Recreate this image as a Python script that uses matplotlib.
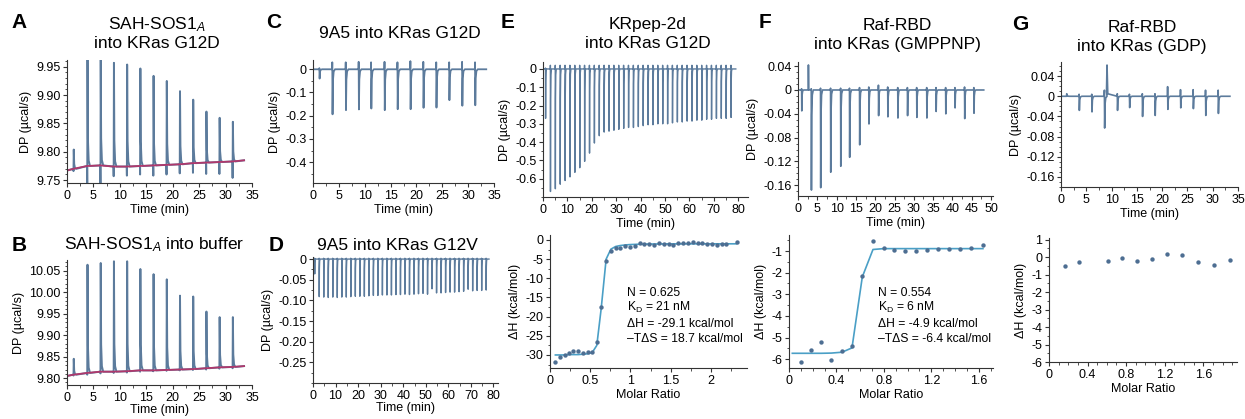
import numpy as np
import matplotlib
matplotlib.use("Agg")
import matplotlib.pyplot as plt
from matplotlib.ticker import MultipleLocator, FuncFormatter

plt.rcParams['font.family'] = ['Liberation Sans', 'DejaVu Sans']
plt.rcParams['mathtext.fontset'] = 'custom'
plt.rcParams['mathtext.rm'] = 'Liberation Sans'
plt.rcParams['mathtext.it'] = 'Liberation Sans:italic'
plt.rcParams['axes.unicode_minus'] = False

# ---------------- DATA ----------------
# Panel A: SAH-SOS1A into KRas G12D (upward peaks)
inj_A = [1.2, 3.8, 6.3, 8.8, 11.3, 13.8, 16.3, 18.8, 21.3, 23.8, 26.3, 28.8, 31.3]
peak_A = [9.804, 9.965, 9.965, 9.957, 9.954, 9.947, 9.934, 9.925, 9.907, 9.892, 9.871, 9.860, 9.853]
dip_A = [9.766, 9.745, 9.745, 9.757, 9.758, 9.760, 9.758, 9.760, 9.762, 9.763, 9.761, 9.761, 9.754]
base_A = [9.770, 9.775, 9.776, 9.774, 9.774, 9.775, 9.776, 9.777, 9.778, 9.780, 9.781, 9.782, 9.783]
base_A_start, base_A_end, end_A = 9.767, 9.785, 33.5

# Panel B: SAH-SOS1A into buffer
inj_B = [1.2, 3.8, 6.3, 8.8, 11.3, 13.8, 16.3, 18.8, 21.3, 23.8, 26.3, 28.8, 31.3]
peak_B = [9.845, 10.064, 10.068, 10.072, 10.072, 10.054, 10.042, 10.030, 9.992, 9.990, 9.955, 9.942, 9.942]
dip_B = [9.806, 9.808, 9.811, 9.812, 9.813, 9.815, 9.816, 9.817, 9.818, 9.819, 9.820, 9.822, 9.823]
base_B = [9.808, 9.812, 9.815, 9.815, 9.816, 9.818, 9.818, 9.819, 9.820, 9.821, 9.823, 9.825, 9.826]
base_B_start, base_B_end, end_B = 9.805, 9.828, 33.5

# Panel C: 9A5 into KRas G12D
inj_C = [1.2, 3.7, 6.3, 8.8, 11.2, 13.8, 16.3, 18.8, 21.3, 23.8, 26.3, 28.8, 31.3]
up_C = [0.005, 0.030, 0.030, 0.032, 0.030, 0.032, 0.030, 0.035, 0.032, 0.030, 0.030, 0.032, 0.030]
peak_C = [-0.040, -0.194, -0.176, -0.173, -0.169, -0.176, -0.172, -0.172, -0.166, -0.165, -0.133, -0.157, -0.155]
end_C = 33.5

# Panel D: 9A5 into KRas G12V
inj_D = [0.7, 2.7, 4.7, 6.7, 8.7, 10.7, 12.7, 14.7, 16.7, 18.7, 20.7, 22.7, 24.7,
         26.7, 28.7, 30.7, 32.7, 34.7, 36.7, 38.7, 40.7, 42.7, 44.7, 46.7, 48.7,
         50.7, 52.7, 54.7, 56.7, 58.7, 60.7, 62.7, 64.7, 66.7, 68.7, 70.7, 72.7,
         74.7, 76.7]
up_D = [0.002] * 39
peak_D = [-0.036, -0.091, -0.092, -0.093, -0.092, -0.093, -0.092, -0.092, -0.091, -0.090,
          -0.090, -0.090, -0.089, -0.088, -0.088, -0.087, -0.087, -0.087, -0.086, -0.086,
          -0.085, -0.086, -0.085, -0.084, -0.083, -0.085, -0.072, -0.082, -0.082, -0.081,
          -0.080, -0.080, -0.079, -0.078, -0.073, -0.077, -0.076, -0.076, -0.075]
end_D = 78.0

# Panel E: KRpep-2d into KRas G12D (thermogram)
inj_E = [1, 3, 5, 7, 9, 11, 13, 15, 17, 19, 21, 23, 25, 27, 29, 31, 33, 35, 37, 39,
         41, 43, 45, 47, 49, 51, 53, 55, 57, 59, 61, 63, 65, 67, 69, 71, 73, 75, 77]
up_E = [0.005] + [0.02] * 38
peak_E = [-0.27, -0.67, -0.655, -0.63, -0.61, -0.59, -0.565, -0.54, -0.505, -0.46,
          -0.405, -0.365, -0.345, -0.34, -0.335, -0.33, -0.325, -0.32, -0.32, -0.315,
          -0.31, -0.305, -0.305, -0.30, -0.30, -0.30, -0.295, -0.29, -0.29, -0.285,
          -0.285, -0.28, -0.28, -0.275, -0.275, -0.27, -0.27, -0.27, -0.265]
end_E = 79.0

# Panel E: binding isotherm
ratio_E = [0.067, 0.125, 0.182, 0.236, 0.29, 0.35, 0.41, 0.467, 0.524, 0.582, 0.636, 0.698,
           0.757, 0.816, 0.875, 0.935, 0.995, 1.055, 1.115, 1.175, 1.235, 1.295, 1.355,
           1.415, 1.475, 1.535, 1.595, 1.655, 1.715, 1.775, 1.835, 1.895, 1.955, 2.015,
           2.075, 2.135, 2.195, 2.32]
dH_E = [-31.9, -30.4, -30.0, -29.4, -29.0, -29.0, -29.6, -29.3, -29.3, -26.7, -17.6, -5.4,
        -2.9, -2.2, -2.2, -1.7, -1.9, -1.6, -0.9, -1.0, -1.1, -1.2, -0.8, -1.0, -1.0, -1.2,
        -0.9, -0.8, -0.7, -0.6, -0.9, -0.7, -1.0, -1.0, -1.2, -1.0, -1.1, -0.4]
fit_E = [-30.0, -30.0, -30.0, -29.9, -29.9, -29.9, -29.8, -29.7, -29.4, -27.5, -18.0, -5.0,
         -2.4, -1.7, -1.45, -1.3, -1.2, -1.15, -1.1, -1.08, -1.06, -1.05, -1.04, -1.03,
         -1.02, -1.02, -1.01, -1.01, -1.0, -1.0, -1.0, -1.0, -1.0, -1.0, -1.0, -1.0, -1.0, -1.0]
text_E = ["N = 0.625", r"K$_{\mathrm{D}}$ = 21 nM", "\u0394H = -29.1 kcal/mol",
          "\u2013T\u0394S = 18.7 kcal/mol"]

# Panel F: Raf-RBD into KRas (GMPPNP)
inj_F = [0.9, 3.4, 5.8, 8.4, 11.0, 13.3, 15.9, 18.3, 20.8, 23.2, 25.8, 28.3, 30.7,
         33.3, 35.7, 38.2, 40.6, 43.1, 45.5]
up_F = [0.002, 0.002, 0.003, 0.003, 0.003, 0.003, 0.004, 0.005, 0.008, 0.005, 0.004,
        0.004, 0.004, 0.004, 0.004, 0.004, 0.004, 0.005, 0.004]
peak_F = [-0.035, -0.168, -0.164, -0.138, -0.128, -0.113, -0.092, -0.057, -0.043, -0.045,
          -0.047, -0.043, -0.046, -0.047, -0.036, -0.040, -0.030, -0.048, -0.039]
artifact_F_t, artifact_F_v = 2.7, 0.042
end_F = 48.1

ratio_F = [0.104, 0.188, 0.272, 0.357, 0.447, 0.531, 0.618, 0.708, 0.798, 0.885, 0.975,
           1.073, 1.163, 1.256, 1.348, 1.444, 1.537, 1.635]
dH_F = [-6.14, -5.57, -5.23, -6.03, -5.62, -5.37, -2.15, -0.54, -0.88, -0.95, -0.98,
        -1.02, -0.95, -0.89, -0.89, -0.89, -0.88, -0.72]
fit_F_x = [0.028, 0.104, 0.188, 0.272, 0.357, 0.447, 0.531, 0.618, 0.708, 0.798, 0.885,
           0.975, 1.073, 1.163, 1.256, 1.348, 1.444, 1.537, 1.635]
fit_F = [-5.73, -5.73, -5.73, -5.73, -5.72, -5.68, -5.48, -2.2, -0.93, -0.89, -0.89,
         -0.89, -0.89, -0.89, -0.89, -0.89, -0.89, -0.89, -0.89]
text_F = ["N = 0.554", r"K$_{\mathrm{D}}$ = 6 nM", "\u0394H = -4.9 kcal/mol",
          "\u2013T\u0394S = -6.4 kcal/mol"]

# Panel G: Raf-RBD into KRas (GDP)
inj_G = [1.1, 3.55, 6.05, 8.55, 11.1, 13.5, 16.05, 18.55, 21.05, 23.6, 26.1, 28.55, 31.05]
up_G = [0.005, 0.004, 0.004, 0.012, 0.005, 0.004, 0.005, 0.005, 0.019, 0.013, 0.013, 0.012, 0.012]
peak_G = [0.004, -0.028, -0.031, -0.063, -0.028, -0.0225, -0.040, -0.038, -0.026, -0.023,
          -0.0245, -0.038, -0.034]
artifact_G_t, artifact_G_v = 9.1, 0.062
end_G = 33.4

ratio_G = [0.17, 0.313, 0.609, 0.762, 0.911, 1.068, 1.224, 1.384, 1.548, 1.711, 1.875]
dH_G = [-0.50, -0.27, -0.19, -0.06, -0.23, -0.10, 0.19, 0.13, -0.27, -0.44, -0.15]

# tick values
xt_35 = [0, 5, 10, 15, 20, 25, 30, 35]
xt_80 = [0, 10, 20, 30, 40, 50, 60, 70, 80]
xt_50 = [0, 5, 10, 15, 20, 25, 30, 35, 40, 45, 50]
yt_A = [9.75, 9.80, 9.85, 9.90, 9.95]
yt_B = [9.80, 9.85, 9.90, 9.95, 10.00, 10.05]
yt_C = [0, -0.1, -0.2, -0.3, -0.4]
yt_D = [0, -0.05, -0.10, -0.15, -0.20, -0.25]
yt_E = [0, -0.1, -0.2, -0.3, -0.4, -0.5, -0.6]
yt_FG = [0.04, 0, -0.04, -0.08, -0.12, -0.16]
yt_Eb = [0, -5, -10, -15, -20, -25, -30]
yt_Fb = [-1, -2, -3, -4, -5, -6]
yt_Gb = [1, 0, -1, -2, -3, -4, -5, -6]
xt_Eb = [0, 0.5, 1, 1.5, 2]
xt_FGb = [0, 0.4, 0.8, 1.2, 1.6]

# ---------------- STYLE ----------------
TRACE = '#5c7b9c'
BASE = '#b0386c'
PTS = '#4d6e92'
FIT = '#4a9fc6'
TICK_FS = 9
LAB_FS = 9
TITLE_FS = 12.5
LET_FS = 15
SPIKE_DX = [0.0, 0.03, 0.08, 0.16, 0.3, 0.55]
SPIKE_FR = [0.25, 0.05, 0.0]

W, H = 1245, 419
fig = plt.figure(figsize=(W / 100, H / 100), dpi=100)


def add_ax(x0, y0, x1, y1):
    return fig.add_axes([x0 / W, 1 - y1 / H, (x1 - x0) / W, (y1 - y0) / H])


def fx(x):
    return x / W


def fy(y):
    return 1 - y / H


def style(ax, xticks, yticks, xdec, ydec, xminor, yminor):
    for s in ('top', 'right'):
        ax.spines[s].set_visible(False)
    for s in ('left', 'bottom'):
        ax.spines[s].set_linewidth(0.8)
        ax.spines[s].set_color('#333333')
    ax.set_xticks(xticks)
    ax.set_yticks(yticks)

    def mk(dec):
        def f(v, _):
            if abs(v) < 1e-9:
                return '0'
            if dec is None:
                return '%g' % v
            return '%.*f' % (dec, v)
        return FuncFormatter(f)
    ax.xaxis.set_major_formatter(mk(xdec))
    ax.yaxis.set_major_formatter(mk(ydec))
    ax.xaxis.set_minor_locator(MultipleLocator(xminor))
    ax.yaxis.set_minor_locator(MultipleLocator(yminor))
    ax.tick_params(which='major', direction='out', length=3.2, width=0.8,
                   labelsize=TICK_FS, pad=1.5, color='#333333')
    ax.tick_params(which='minor', direction='out', length=1.8, width=0.6, color='#333333')


def thermo(times, pre, main, base, start_b, end_b, t_end, s):
    xs = [0.0]
    ys = [start_b]
    for t, p, m, b in zip(times, pre, main, base):
        d = SPIKE_DX
        xs += [t + d[0] * s, t + d[1] * s, t + d[2] * s, t + d[3] * s, t + d[4] * s, t + d[5] * s]
        ys += [b, p, m, b + SPIKE_FR[0] * (m - b), b + SPIKE_FR[1] * (m - b), b]
    xs.append(t_end)
    ys.append(end_b)
    return xs, ys


# ---------- Panel A ----------
axA = add_ax(67, 60, 252, 183)
x, y = thermo(inj_A, dip_A, peak_A, base_A, base_A_start, base_A_end, end_A, 1.0)
axA.plot(x, y, color=TRACE, lw=1.4)
axA.plot([0] + inj_A + [end_A], [base_A_start] + base_A + [base_A_end], color=BASE, lw=1.3)
axA.set_xlim(0, 35)
axA.set_ylim(9.745, 9.962)
style(axA, xt_35, yt_A, 0, 2, 2.5, 0.01)
axA.set_xlabel('Time (min)', fontsize=LAB_FS, labelpad=2)
axA.set_ylabel('DP (\u00b5cal/s)', fontsize=LAB_FS, labelpad=3)

# ---------- Panel B ----------
axB = add_ax(67, 260, 252, 385)
x, y = thermo(inj_B, dip_B, peak_B, base_B, base_B_start, base_B_end, end_B, 1.0)
axB.plot(x, y, color=TRACE, lw=1.4)
axB.plot([0] + inj_B + [end_B], [base_B_start] + base_B + [base_B_end], color=BASE, lw=1.3)
axB.set_xlim(0, 35)
axB.set_ylim(9.784, 10.075)
style(axB, xt_35, yt_B, 0, 2, 2.5, 0.01)
axB.set_xlabel('Time (min)', fontsize=LAB_FS, labelpad=0)
axB.set_ylabel('DP (\u00b5cal/s)', fontsize=LAB_FS, labelpad=3)

# ---------- Panel C ----------
axC = add_ax(313, 60, 494, 183)
x, y = thermo(inj_C, up_C, peak_C, [0] * len(inj_C), 0, 0, end_C, 1.0)
axC.plot(x, y, color=TRACE, lw=1.3)
axC.set_xlim(0, 35)
axC.set_ylim(-0.49, 0.04)
style(axC, xt_35, yt_C, 0, 1, 2.5, 0.05)
axC.set_xlabel('Time (min)', fontsize=LAB_FS, labelpad=2)
axC.set_ylabel('DP (\u00b5cal/s)', fontsize=LAB_FS, labelpad=3)

# ---------- Panel D ----------
axD = add_ax(313, 257, 498, 383)
x, y = thermo(inj_D, up_D, peak_D, [0] * len(inj_D), 0, 0, end_D, 0.8)
axD.plot(x, y, color=TRACE, lw=1.0)
axD.set_xlim(0, 82)
axD.set_ylim(-0.3, 0.005)
style(axD, xt_80, yt_D, 0, 2, 5, 0.025)
axD.set_xlabel('Time (min)', fontsize=LAB_FS, labelpad=0)
axD.set_ylabel('DP (\u00b5cal/s)', fontsize=LAB_FS, labelpad=3)

# ---------- Panel E top ----------
axE = add_ax(543, 62, 748, 197)
x, y = thermo(inj_E, up_E, peak_E, [0] * len(inj_E), 0, 0, end_E, 0.8)
axE.plot(x, y, color=TRACE, lw=1.0)
axE.set_xlim(0, 84)
axE.set_ylim(-0.7, 0.038)
style(axE, xt_80, yt_E, 0, 1, 5, 0.05)
axE.set_xlabel('Time (min)', fontsize=LAB_FS, labelpad=2)
axE.set_ylabel('DP (\u00b5cal/s)', fontsize=LAB_FS, labelpad=3)

# ---------- Panel E bottom ----------
axEb = add_ax(550, 235, 747, 368)
axEb.plot(ratio_E, fit_E, color=FIT, lw=1.2, zorder=2)
axEb.scatter(ratio_E, dH_E, s=10, color=PTS, zorder=3, linewidths=0)
axEb.set_xlim(0, 2.45)
axEb.set_ylim(-33.4, 1.3)
style(axEb, xt_Eb, yt_Eb, None, 0, 0.25, 2.5)
axEb.set_xlabel('Molar Ratio', fontsize=LAB_FS, labelpad=2)
axEb.set_ylabel('\u0394H (kcal/mol)', fontsize=LAB_FS, labelpad=3)
for i, s in enumerate(text_E):
    fig.text(fx(627), fy(296 + 15.3 * i), s, fontsize=8.7, va='baseline', ha='left')

# ---------- Panel F top ----------
axF = add_ax(798, 62, 993, 196)
x, y = thermo(inj_F, up_F, peak_F, [0] * len(inj_F), 0, 0, end_F, 1.0)
x = x[:7] + [artifact_F_t - 0.05, artifact_F_t, artifact_F_t + 0.08] + x[7:]
y = y[:7] + [0, artifact_F_v, 0] + y[7:]
axF.plot(x, y, color=TRACE, lw=1.2)
axF.set_xlim(0, 50.5)
axF.set_ylim(-0.178, 0.047)
style(axF, xt_50, yt_FG, 0, 2, 2.5, 0.01)
axF.set_xlabel('Time (min)', fontsize=LAB_FS, labelpad=2)
axF.set_ylabel('DP (\u00b5cal/s)', fontsize=LAB_FS, labelpad=3)

# ---------- Panel F bottom ----------
axFb = add_ax(789, 235, 993, 368)
axFb.plot(fit_F_x, fit_F, color=FIT, lw=1.2, zorder=2)
axFb.scatter(ratio_F, dH_F, s=10, color=PTS, zorder=3, linewidths=0)
axFb.set_xlim(0, 1.72)
axFb.set_ylim(-6.41, -0.26)
style(axFb, xt_FGb, yt_Fb, None, 0, 0.1, 0.5)
axFb.set_xlabel('Molar Ratio', fontsize=LAB_FS, labelpad=2)
axFb.set_ylabel('\u0394H (kcal/mol)', fontsize=LAB_FS, labelpad=3)
for i, s in enumerate(text_F):
    fig.text(fx(878), fy(296 + 15.3 * i), s, fontsize=8.7, va='baseline', ha='left')

# ---------- Panel G top ----------
axG = add_ax(1061, 62, 1238, 187)
x, y = thermo(inj_G, up_G, peak_G, [0] * len(inj_G), 0, 0, end_G, 1.0)
k = 6 * 4 + 1
x = x[:k] + [artifact_G_t - 0.1, artifact_G_t, artifact_G_t + 0.15] + x[k:]
y = y[:k] + [0.01, artifact_G_v, 0.005] + y[k:]
axG.plot(x, y, color=TRACE, lw=1.2)
axG.set_xlim(0, 35)
axG.set_ylim(-0.18, 0.068)
style(axG, xt_35, yt_FG, 0, 2, 2.5, 0.01)
axG.set_xlabel('Time (min)', fontsize=LAB_FS, labelpad=2)
axG.set_ylabel('DP (\u00b5cal/s)', fontsize=LAB_FS, labelpad=3)

# ---------- Panel G bottom ----------
axGb = add_ax(1049, 238, 1237, 362)
axGb.scatter(ratio_G, dH_G, s=10, color=PTS, zorder=3, linewidths=0)
axGb.set_xlim(0, 1.95)
axGb.set_ylim(-6, 1.1)
style(axGb, xt_FGb, yt_Gb, None, 0, 0.1, 0.5)
axGb.set_xlabel('Molar Ratio', fontsize=LAB_FS, labelpad=2)
axGb.set_ylabel('\u0394H (kcal/mol)', fontsize=LAB_FS, labelpad=3)

# ---------- Titles & letters ----------
def title(xc, yc, s):
    fig.text(fx(xc), fy(yc), s, fontsize=TITLE_FS, ha='center', va='center')


title(157, 25, r'SAH-SOS1$_{\mathit{A}}$')
title(157, 44, 'into KRas G12D')
title(154, 245, r'SAH-SOS1$_{\mathit{A}}$ into buffer')
title(400, 33, '9A5 into KRas G12D')
title(397, 245, '9A5 into KRas G12V')
title(648, 24, 'KRpep-2d')
title(648, 44, 'into KRas G12D')
title(897, 25, 'Raf-RBD')
title(897, 44, 'into KRas (GMPPNP)')
title(1142, 27, 'Raf-RBD')
title(1142, 46, 'into KRas (GDP)')

for lx, ly, s in [(19, 22, 'A'), (19, 245, 'B'), (274, 22, 'C'), (276, 245, 'D'),
                  (508, 23, 'E'), (765, 22, 'F'), (1020, 24, 'G')]:
    fig.text(fx(lx), fy(ly), s, fontsize=LET_FS, fontweight='bold', ha='center', va='center')

fig.savefig('out.png', dpi=100)
